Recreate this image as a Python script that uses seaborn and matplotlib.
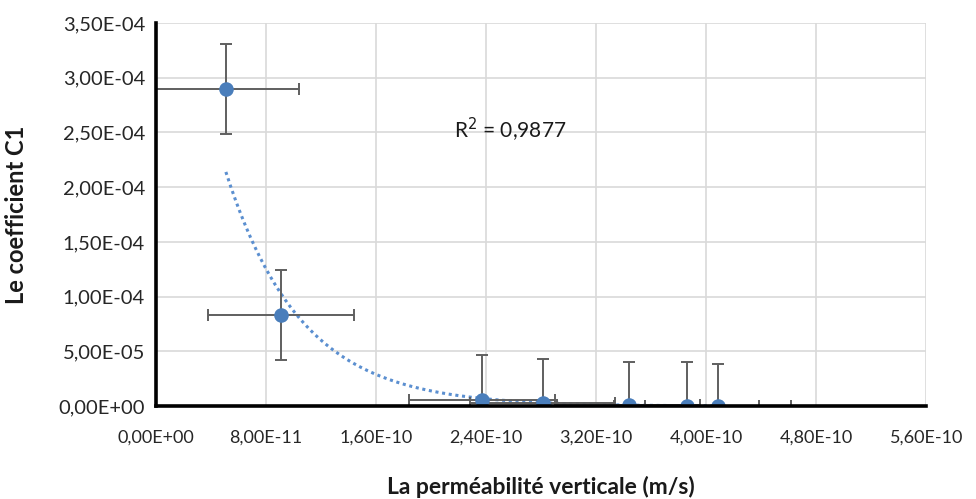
import numpy as np
import pandas as pd
import seaborn as sns
import matplotlib.pyplot as plt
from matplotlib.ticker import FuncFormatter, MultipleLocator

# Vertical permeability (m/s) and coefficient C1
permeabilite = [5.07e-11, 9.06e-11, 2.37e-10, 2.81e-10, 3.435e-10, 3.857e-10, 4.087e-10]
coefficient_c1 = [2.90e-4, 8.30e-5, 6.0e-6, 2.5e-6, 8.0e-7, 5.0e-7, 4.0e-7]
erreur_x = [5.3e-11, 5.3e-11, 5.3e-11, 5.3e-11, 5.2e-11, 5.3e-11, 5.3e-11]
erreur_y = [4.1e-5, 4.1e-5, 4.05e-5, 4.1e-5, 4.0e-5, 4.0e-5, 3.8e-5]

# Exponential trend y = A * exp(B * x)
trend_A = 5.41e-4
trend_B = -1.83e10
r2_text = "R$^2$ = 0,9877"

df = pd.DataFrame({"k": permeabilite, "c1": coefficient_c1})

sns.set_theme(style="whitegrid")
plt.rcParams["font.family"] = ["Lato", "DejaVu Sans"]

fig = plt.figure(figsize=(9.76, 4.99), dpi=100)
ax = fig.add_axes([0.16, 0.186, 0.789, 0.768])

blue = "#4A7EBB"

ax.errorbar(permeabilite, coefficient_c1, xerr=erreur_x, yerr=erreur_y,
            fmt="none", ecolor="#5F5F5F", elinewidth=1.4, capsize=4,
            capthick=1.4, zorder=3)

xt = np.linspace(permeabilite[0], permeabilite[-1], 200)
trend = pd.DataFrame({"k": xt, "c1": trend_A * np.exp(trend_B * xt)})
sns.lineplot(data=trend, x="k", y="c1", ax=ax, color="#5B8FD0",
             linestyle=(0, (1, 1.2)), linewidth=2.2, zorder=2)

sns.scatterplot(data=df, x="k", y="c1", ax=ax, color=blue, s=110,
                edgecolor=blue, linewidth=0, zorder=4)

ax.set_xlim(0, 5.6e-10)
ax.set_ylim(0, 3.5e-4)
ax.xaxis.set_major_locator(MultipleLocator(8e-11))
ax.yaxis.set_major_locator(MultipleLocator(5e-5))

fmt = FuncFormatter(lambda v, p: f"{v:.2E}".replace(".", ","))
ax.xaxis.set_major_formatter(fmt)
ax.yaxis.set_major_formatter(fmt)
ax.tick_params(axis="both", colors="#262626", length=0)
ax.tick_params(axis="y", pad=8, labelsize=14.5)
ax.tick_params(axis="x", pad=17, labelsize=13)

ax.grid(True, color="#D9D9D9", linewidth=1.2)
ax.set_facecolor("white")
for side in ["top", "right"]:
    ax.spines[side].set_visible(False)
for side in ["left", "bottom"]:
    ax.spines[side].set_color("black")
    ax.spines[side].set_linewidth(2.6)
    ax.spines[side].set_zorder(5)

ax.set_xlabel("La perméabilité verticale (m/s)", fontsize=16.5, fontweight="bold",
              color="#1a1a1a", labelpad=22)
ax.set_ylabel("Le coefficient C1", fontsize=17, fontweight="bold",
              color="#1a1a1a", labelpad=22)

ax.text(2.165e-10, 2.52e-4, r2_text, fontsize=15, color="#1a1a1a",
        ha="left", va="center")

fig.savefig("out.png", dpi=100)
